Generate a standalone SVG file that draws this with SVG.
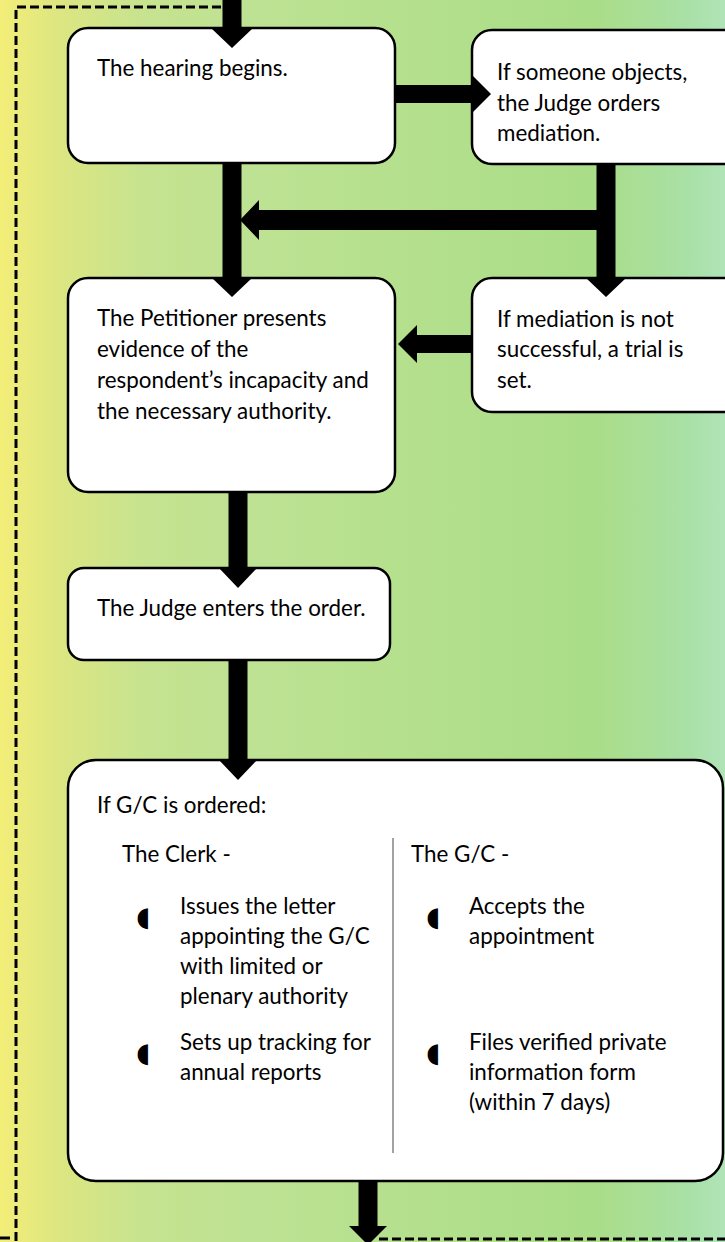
<svg xmlns="http://www.w3.org/2000/svg" width="725" height="1242" viewBox="0 0 725 1242">
<defs>
<linearGradient id="bg" x1="0" y1="0" x2="1" y2="0">
<stop offset="0" stop-color="#f3ee78"/>
<stop offset="0.08" stop-color="#dde681"/>
<stop offset="0.2" stop-color="#c6e390"/>
<stop offset="0.35" stop-color="#bde293"/>
<stop offset="0.55" stop-color="#b5e08d"/>
<stop offset="0.82" stop-color="#aadd88"/>
<stop offset="0.95" stop-color="#a9e0a6"/>
<stop offset="1" stop-color="#b0e4b8"/>
</linearGradient>
<style>
.box{fill:#fff;stroke:#000;stroke-width:2.5}
.t{font-family:Lato,"Liberation Sans",sans-serif;font-size:22.4px;fill:#000}
.b{font-family:"DejaVu Sans",sans-serif;font-size:27px;fill:#000}
.dash{fill:none;stroke:#000;stroke-width:3;stroke-dasharray:9 4}
.arr{fill:#000}
.div{stroke:#444;stroke-width:1}
</style>
</defs>
<rect x="0" y="0" width="725" height="1242" fill="url(#bg)"/>
<g id="border">
<path class="dash" d="M16,1241 V7 H223"/>
<path class="dash" d="M379,1239 H725"/>
<path d="M0,1238 H10" stroke="#000" stroke-width="3"/>
</g>
<g id="n1">
<rect class="box" x="68" y="28" width="327" height="135" rx="20"/>
<text class="t" x="97" y="76">The hearing begins.</text>
</g>
<g id="n2">
<rect class="box" x="472" y="30" width="280" height="134" rx="20"/>
<text class="t" x="497" y="80">If someone objects,</text>
<text class="t" x="497" y="111">the Judge orders</text>
<text class="t" x="497" y="141">mediation.</text>
</g>
<g id="n3">
<rect class="box" x="68" y="278" width="327" height="214" rx="20"/>
<text class="t" x="97" y="326">The Petitioner presents</text>
<text class="t" x="97" y="357">evidence of the</text>
<text class="t" x="97" y="388">respondent’s incapacity and</text>
<text class="t" x="97" y="419">the necessary authority.</text>
</g>
<g id="n4">
<rect class="box" x="472" y="278" width="280" height="134" rx="20"/>
<text class="t" x="497" y="327">If mediation is not</text>
<text class="t" x="497" y="357">successful, a trial is</text>
<text class="t" x="497" y="388">set.</text>
</g>
<g id="n5">
<rect class="box" x="68" y="568" width="322" height="92" rx="16"/>
<text class="t" x="97" y="616">The Judge enters the order.</text>
</g>
<g id="n6">
<rect class="box" x="68" y="760" width="655" height="421" rx="28"/>
<text class="t" x="97" y="813">If G/C is ordered:</text>
<text class="t" x="122" y="862">The Clerk -</text>
<text class="t" x="411" y="862">The G/C -</text>
<line class="div" x1="393" y1="838" x2="393" y2="1153"/>
<text class="b" x="136" y="926">◖</text>
<text class="t" x="180" y="914">Issues the letter</text>
<text class="t" x="180" y="944">appointing the G/C</text>
<text class="t" x="180" y="974">with limited or</text>
<text class="t" x="180" y="1004">plenary authority</text>
<text class="b" x="136" y="1062">◖</text>
<text class="t" x="180" y="1050">Sets up tracking for</text>
<text class="t" x="180" y="1080">annual reports</text>
<text class="b" x="426" y="926">◖</text>
<text class="t" x="469" y="914">Accepts the</text>
<text class="t" x="469" y="944">appointment</text>
<text class="b" x="426" y="1062">◖</text>
<text class="t" x="469" y="1050">Files verified private</text>
<text class="t" x="469" y="1080">information form</text>
<text class="t" x="469" y="1110">(within 7 days)</text>
</g>
<g id="connectors">
<path class="arr" d="M222.5,0 H241.5 V29 H252 L232,48 L212,29 H222.5 Z"/>
<path class="arr" d="M395,85 H472 V75 L491,94 L472,113 V103 H395 Z"/>
<path class="arr" d="M596.5,164 H615.5 V278 H626 L606,297 L586,278 H596.5 Z"/>
<path class="arr" d="M597,210 V230 H259 V240 L240,220 L259,200 V210 Z"/>
<path class="arr" d="M222.5,163 H241.5 V278 H252 L232,297 L212,278 H222.5 Z"/>
<path class="arr" d="M472,335 V353 H417 V363 L398,344 L417,325 V335 Z"/>
<path class="arr" d="M228.5,492 H247.5 V568 H257 L238,588 L219,568 H228.5 Z"/>
<path class="arr" d="M228.5,660 H247.5 V760 H257 L238,780 L219,760 H228.5 Z"/>
<path class="arr" d="M358.5,1181 H377.5 V1226 H387 L368,1245 L349,1226 H358.5 Z"/>
</g>
</svg>
